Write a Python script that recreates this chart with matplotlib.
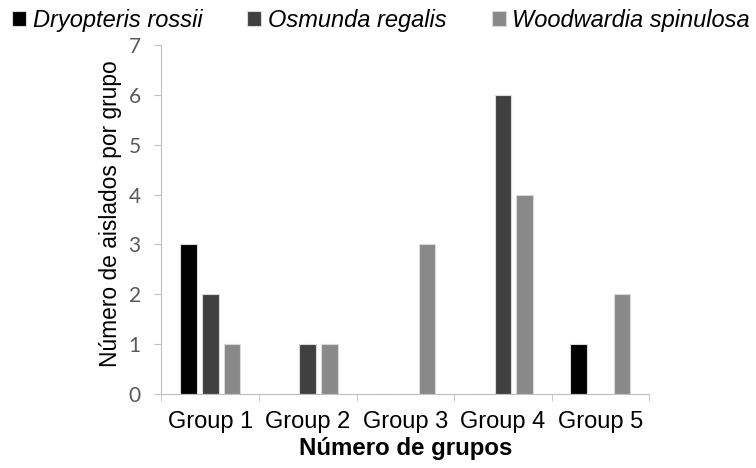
import matplotlib.pyplot as plt
from matplotlib.ticker import FixedLocator
import numpy as np

groups = ['Group 1', 'Group 2', 'Group 3', 'Group 4', 'Group 5']
species = ['Dryopteris rossii', 'Osmunda regalis', 'Woodwardia spinulosa']
rossii = [3, 0, 0, 0, 1]
regalis = [2, 1, 0, 6, 0]
spinulosa = [1, 1, 3, 4, 2]
colors = ['#000000', '#404040', '#898989']

plt.rcParams['font.family'] = ['Liberation Sans', 'DejaVu Sans']

fig = plt.figure(figsize=(7.56, 4.68), dpi=100)
ax = fig.add_axes([0.2136, 0.1581, 0.645, 0.7457])

x = np.arange(len(groups))
w = 0.17
step = 0.222
for k, vals in enumerate([rossii, regalis, spinulosa]):
    ax.bar(x + (k - 1) * step, vals, w, color=colors[k], edgecolor='#d9d9d9',
           linewidth=0.8, label=species[k])

ax.set_xlim(-0.5, len(groups) - 0.5)
ax.set_ylim(0, 7)
ax.set_yticks(range(8))
ax.set_xticks(x)
ax.set_xticklabels(groups, fontsize=17)
ax.xaxis.set_minor_locator(FixedLocator(np.arange(-0.5, len(groups), 1)))
ax.tick_params(axis='x', which='major', length=0, pad=12)
ax.tick_params(axis='x', which='minor', length=5, color='#bfbfbf', direction='out')
ax.tick_params(axis='y', length=5, color='#bfbfbf', pad=10, labelcolor='#595959')
for lab in ax.get_yticklabels():
    lab.set_family(['Lato', 'DejaVu Sans'])
    lab.set_fontsize(15)

for s in ['top', 'right']:
    ax.spines[s].set_visible(False)
for s in ['left', 'bottom']:
    ax.spines[s].set_color('#bfbfbf')

ax.set_xlabel('Número de grupos', fontsize=17.3, fontweight='bold', labelpad=3)
ax.set_ylabel('Número de aislados por grupo', fontsize=16.4, labelpad=5)
ax.yaxis.label.set_y(0.518)

# legend squares ~12 px, sitting above the plot
fig.legend(loc='center left', bbox_to_anchor=(12 / 756, 0.957), ncol=3, frameon=False,
           handlelength=0.6, handleheight=0.6, handletextpad=0.28,
           columnspacing=1.9, borderaxespad=0, borderpad=0,
           prop={'style': 'italic', 'size': 17})

fig.savefig('out.png', dpi=100)
